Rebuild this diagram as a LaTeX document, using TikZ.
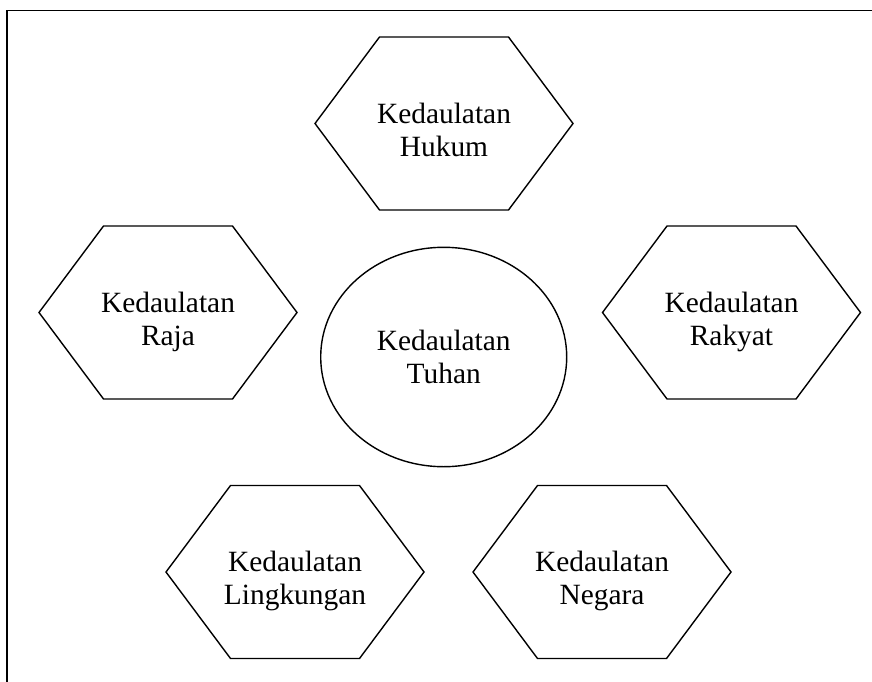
\documentclass[tikz,border=0pt]{standalone}
\usepackage{fontspec}
\setmainfont{Liberation Serif}
\tikzset{
  shapeline/.style={draw=black, line width=1.4pt, line join=miter},
  label29/.style={align=center, inner sep=0pt, font=\fontsize{29.4}{33}\selectfont},
}
\newcommand\hexdraw[3]{% name, cx, cy
  \coordinate (#1) at (#2,#3);
  \draw[shapeline] ($(#1)+(-129,0)$) -- ($(#1)+(-64.5,-86.5)$) -- ($(#1)+(64.5,-86.5)$)
    -- ($(#1)+(129,0)$) -- ($(#1)+(64.5,86.5)$) -- ($(#1)+(-64.5,86.5)$) -- cycle;
}
\usetikzlibrary{calc}
\begin{document}
\begin{tikzpicture}[x=1pt,y=-1pt]
\useasboundingbox (0,0) rectangle (872,682);
\clip (0,0) rectangle (872,682);
\coordinate (frameNW) at (7,10.5);
\coordinate (frameSE) at (900,700);
\draw[line width=1.5pt] (frameNW) rectangle (frameSE);
\hexdraw{hukum}{444}{123.5}
\hexdraw{raja}{168}{312.5}
\hexdraw{rakyat}{731.5}{312.5}
\hexdraw{lingk}{295}{572}
\hexdraw{negara}{602}{572}
\coordinate (tuhan) at (443.7,357);
\draw[shapeline] (tuhan) ellipse [x radius=123, y radius=109.7];
\node[label29, anchor=base] (thukum) at ($(hukum)+(0,33)$) {Kedaulatan\\Hukum};
\node[label29, anchor=base] (traja) at ($(raja)+(0,33)$) {Kedaulatan\\Raja};
\node[label29, anchor=base] (trakyat) at ($(rakyat)+(0,33)$) {Kedaulatan\\Rakyat};
\node[label29, anchor=base] (tlingk) at ($(lingk)+(0,32)$) {Kedaulatan\\Lingkungan};
\node[label29, anchor=base] (tnegara) at ($(negara)+(0,32)$) {Kedaulatan\\Negara};
\node[label29, anchor=base] (ttuhan) at ($(tuhan)+(0,26)$) {Kedaulatan\\Tuhan};
\end{tikzpicture}
\end{document}
